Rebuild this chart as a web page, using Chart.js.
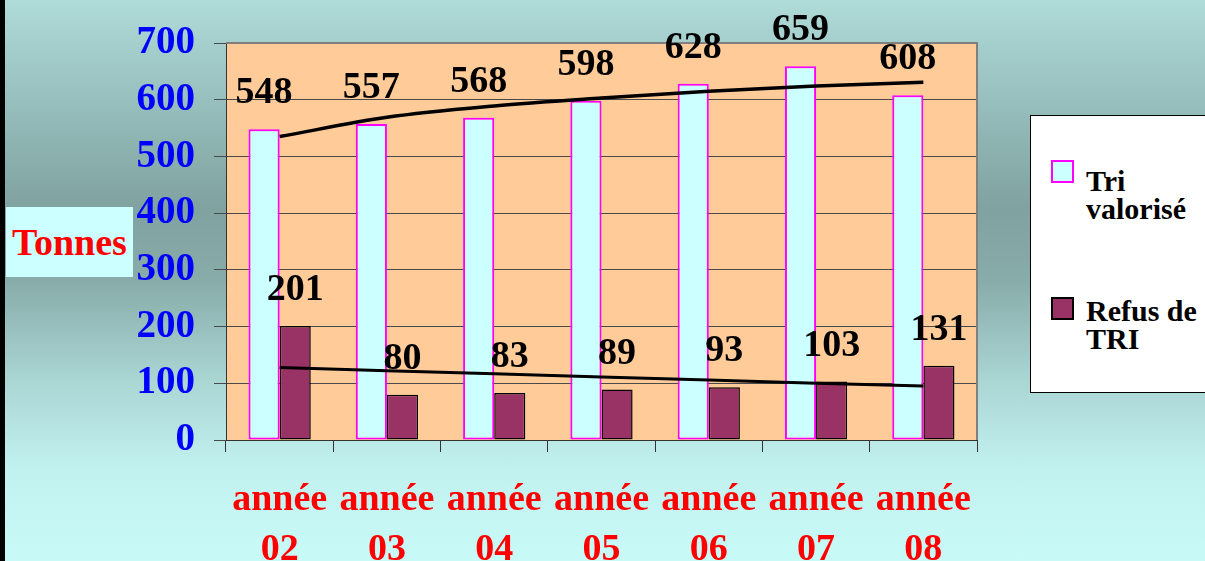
<!DOCTYPE html>
<html>
<head>
<meta charset="utf-8">
<script src="https://cdn.jsdelivr.net/npm/chart.js@4.4.0/dist/chart.umd.min.js"></script>
<style>
  html, body { margin: 0; padding: 0; }
  #cadre {
    position: relative; width: 1205px; height: 561px; overflow: hidden;
    background: linear-gradient(to bottom, #afdbd9 0%, #94bcba 20%, #80a2a0 37%, #88acaa 50%, #aad6d4 68%, #c2f2f0 84%, #c8faf8 100%);
  }
  #bord { position: absolute; left: 0; top: 0; width: 5px; height: 561px; background: #000; }
  #tonnes {
    position: absolute; left: 6px; top: 207px; width: 127px; height: 70px;
    background: #ccffff; color: #ff0000; text-align: center;
    font: bold 38px "Liberation Serif", serif; line-height: 70px;
  }
  #legende {
    position: absolute; left: 1030px; top: 115px; width: 200px; height: 276px;
    background: #fff; border: 1px solid #000;
    font: bold 30px "Liberation Serif", serif; line-height: 28px; color: #000;
  }
  .item { position: absolute; left: 55px; }
  .carre { position: absolute; left: -35px; width: 19px; height: 19px; }
  canvas { position: absolute; left: 0; top: 0; }
</style>
</head>
<body>
<div id="cadre">
  <canvas id="graphique" width="1205" height="561"></canvas>
  <div id="bord"></div>
  <div id="tonnes">Tonnes</div>
  <div id="legende">
    <div class="item" style="top:51px"><span class="carre" style="top:-7px;background:#ccffff;border:2px solid #ff00ff"></span>Tri<br>valorisé</div>
    <div class="item" style="top:181px"><span class="carre" style="top:0px;background:#993366;border:2px solid #000"></span>Refus de<br>TRI</div>
  </div>
</div>
<script>
const annees = [['année', '02'], ['année', '03'], ['année', '04'], ['année', '05'], ['année', '06'], ['année', '07'], ['année', '08']];
const triValorise = [548, 557, 568, 598, 628, 659, 608];
const refusTri = [201, 80, 83, 89, 93, 103, 131];
// courbes de tendance
const tendanceTri = [535, 569, 589, 603, 615, 624, 631];
const tendanceRefus = [128, 122, 117, 111, 106, 100, 95];

const police = '"Liberation Serif", serif';

const fondTraces = {
    id: 'fondTraces',
    beforeDraw(chart) {
        const a = chart.chartArea;
        const ctx = chart.ctx;
        ctx.save();
        ctx.fillStyle = '#ffcc99';
        ctx.fillRect(a.left, a.top, a.right - a.left, a.bottom - a.top);
        ctx.restore();
    },
    beforeDatasetsDraw(chart) {
        const a = chart.chartArea;
        const ctx = chart.ctx;
        ctx.save();
        ctx.strokeStyle = '#808080';
        ctx.lineWidth = 2;
        ctx.beginPath();
        ctx.moveTo(a.left, a.top);
        ctx.lineTo(a.right, a.top);
        ctx.lineTo(a.right, a.bottom);
        ctx.stroke();
        ctx.restore();
    }
};

const etiquettes = {
    id: 'etiquettes',
    afterDatasetsDraw(chart) {
        const ctx = chart.ctx;
        ctx.save();
        ctx.font = 'bold 38px ' + police;
        ctx.fillStyle = '#000';
        ctx.textAlign = 'center';
        ctx.textBaseline = 'alphabetic';
        [0, 1].forEach(i => {
            chart.getDatasetMeta(i).data.forEach((barre, j) => {
                ctx.fillText(chart.data.datasets[i].data[j], barre.x, barre.y - 26);
            });
        });
        ctx.restore();
    }
};

const ctx = document.getElementById('graphique').getContext('2d');
new Chart(ctx, {
    type: 'bar',
    data: {
        labels: annees,
        datasets: [{
            label: 'Tri valorisé',
            data: triValorise,
            backgroundColor: '#ccffff',
            borderColor: '#ff00ff',
            borderWidth: 2,
            borderSkipped: false,
            order: 1
        }, {
            label: 'Refus de TRI',
            data: refusTri,
            backgroundColor: '#993366',
            borderColor: '#000000',
            borderWidth: 1.5,
            borderSkipped: false,
            order: 1
        }, {
            type: 'line',
            label: 'tendance tri',
            data: tendanceTri,
            borderColor: '#000',
            borderWidth: 3.5,
            pointRadius: 0,
            cubicInterpolationMode: 'monotone',
            fill: false,
            order: 0
        }, {
            type: 'line',
            label: 'tendance refus',
            data: tendanceRefus,
            borderColor: '#000',
            borderWidth: 3,
            pointRadius: 0,
            fill: false,
            order: 0
        }]
    },
    options: {
        responsive: false,
        animation: false,
        layout: { padding: { top: 43, right: 228, left: 0, bottom: 0 } },
        datasets: { bar: { categoryPercentage: 0.58, barPercentage: 1.0 } },
        plugins: { legend: { display: false }, tooltip: { enabled: false } },
        scales: {
            x: {
                afterFit: s => { s.height = 121; },
                grid: { offset: true, drawOnChartArea: false, drawTicks: true, tickLength: 12, color: '#333' },
                border: { color: '#333', width: 1 },
                ticks: {
                    color: '#ff0000',
                    padding: 23,
                    maxRotation: 0,
                    font: { family: police, size: 38, weight: 'bold', lineHeight: 1.32 }
                }
            },
            y: {
                min: 0,
                max: 700,
                afterFit: s => { s.width = 226; },
                grid: { color: '#4a4a4a', tickLength: 12 },
                border: { color: '#333', width: 1 },
                ticks: {
                    stepSize: 100,
                    color: '#0000ff',
                    padding: 19,
                    font: { family: police, size: 39, weight: 'bold' }
                }
            }
        }
    },
    plugins: [fondTraces, etiquettes]
});
</script>
</body>
</html>
